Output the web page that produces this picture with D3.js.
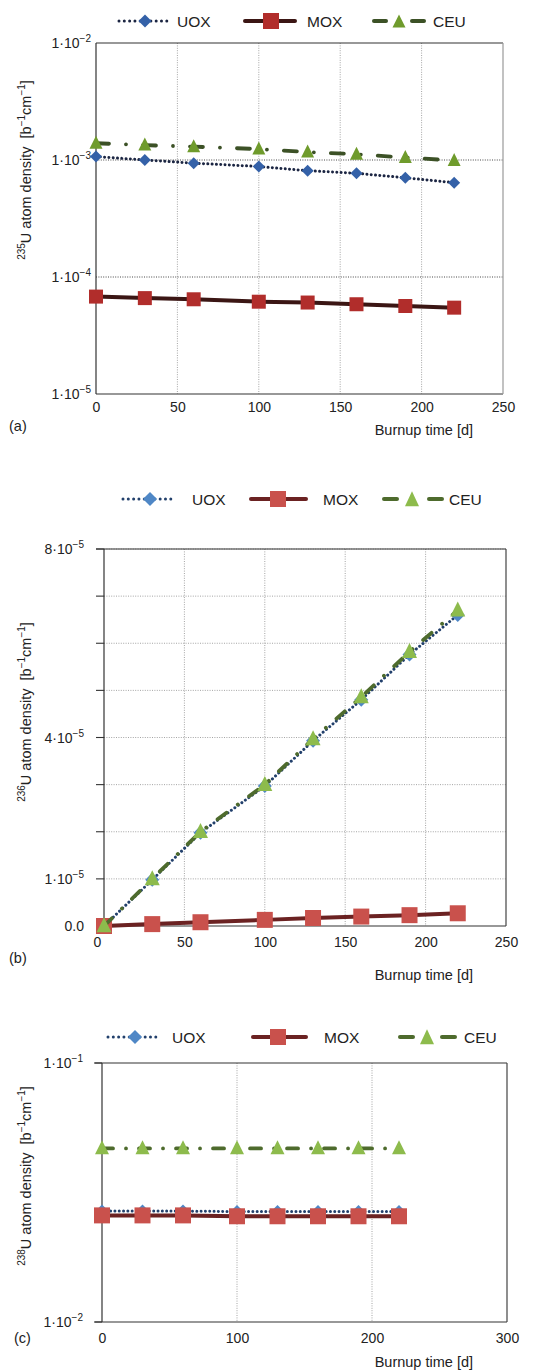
<!DOCTYPE html>
<html>
<head>
<meta charset="utf-8">
<script src="https://cdn.jsdelivr.net/npm/d3@7"></script>
<style>
  html, body { margin: 0; padding: 0; background: #fff; }
  svg { display: block; font-family: "Liberation Sans", Arial, sans-serif; }
</style>
</head>
<body>
<svg id="chart" width="553" height="1372"></svg>
<script>
// ---------------- DATA ----------------
const seriesNames = ["UOX", "MOX", "CEU"];
const burnupDays = [0, 30, 60, 100, 130, 160, 190, 220];

// (a) 235U atom density [b^-1 cm^-1]
const u235_UOX = [1.07e-3, 1.00e-3, 9.4e-4, 8.8e-4, 8.1e-4, 7.7e-4, 7.05e-4, 6.4e-4];
const u235_MOX = [6.8e-5, 6.6e-5, 6.45e-5, 6.15e-5, 6.05e-5, 5.85e-5, 5.65e-5, 5.47e-5];
const u235_CEU = [1.39e-3, 1.34e-3, 1.30e-3, 1.24e-3, 1.17e-3, 1.12e-3, 1.05e-3, 0.99e-3];

// (b) 236U atom density
const u236_UOX = [0, 0.98e-5, 1.98e-5, 2.97e-5, 3.93e-5, 4.80e-5, 5.76e-5, 6.60e-5];
const u236_MOX = [0, 0.04e-5, 0.08e-5, 0.13e-5, 0.17e-5, 0.20e-5, 0.23e-5, 0.27e-5];
const u236_CEU = [0, 1.00e-5, 2.00e-5, 3.00e-5, 3.97e-5, 4.86e-5, 5.82e-5, 6.70e-5];

// (c) 238U atom density
const u238_UOX = [0.0268, 0.0268, 0.0268, 0.0267, 0.0267, 0.0267, 0.0267, 0.0267];
const u238_MOX = [0.0258, 0.0258, 0.0258, 0.0256, 0.0256, 0.0256, 0.0256, 0.0256];
const u238_CEU = [0.0468, 0.0468, 0.0468, 0.0468, 0.0468, 0.0468, 0.0468, 0.0468];

// tick labels
const xTicksA = [0, 50, 100, 150, 200, 250];
const xTicksB = [0, 50, 100, 150, 200, 250];
const xTicksC = [0, 100, 200, 300];
const yTicksA = [{v: 1e-2, m: "1·10", e: "−2"}, {v: 1e-3, m: "1·10", e: "−3"}, {v: 1e-4, m: "1·10", e: "−4"}, {v: 1e-5, m: "1·10", e: "−5"}];
const yTicksB = [{v: 8e-5, m: "8·10", e: "−5"}, {v: 4e-5, m: "4·10", e: "−5"}, {v: 1e-5, m: "1·10", e: "−5"}, {v: 0, m: "0.0", e: ""}];
const yTicksC = [{v: 1e-1, m: "1·10", e: "−1"}, {v: 1e-2, m: "1·10", e: "−2"}];
const yGridB = [1e-5, 2e-5, 3e-5, 4e-5, 5e-5, 6e-5, 7e-5, 8e-5];

// ---------------- DRAWING ----------------
const svg = d3.select("#chart");

const diamondPath = r => `M0,${-r}L${r},0L0,${r}L${-r},0Z`;
const squarePath = s => `M${-s/2},${-s/2}h${s}v${s}h${-s}Z`;
const trianglePath = (w, h) => `M0,${-h*0.58}L${w/2},${h*0.42}L${-w/2},${h*0.42}Z`;

function panel(cfg) {
  const g = svg.append("g");
  const x = d3.scaleLinear().domain(cfg.xDomain).range([cfg.left, cfg.right]);
  const y = (cfg.log ? d3.scaleLog() : d3.scaleLinear()).domain(cfg.yDomain).range([cfg.bottom, cfg.top]);

  // vertical grid
  g.selectAll(".vg").data(cfg.xGrid).join("line")
    .attr("x1", d => x(d)).attr("x2", d => x(d))
    .attr("y1", cfg.top).attr("y2", cfg.bottom)
    .attr("stroke", "#9a9a9a").attr("stroke-width", 0.9).attr("stroke-dasharray", "1 1.4");
  // horizontal grid
  g.selectAll(".hg").data(cfg.yGrid).join("line")
    .attr("x1", cfg.left).attr("x2", cfg.right)
    .attr("y1", d => y(d)).attr("y2", d => y(d))
    .attr("stroke", cfg.hGridColor).attr("stroke-width", 0.9).attr("stroke-dasharray", "1 1.4");
  // left tick marks
  if (cfg.yTickMarks) {
    g.selectAll(".yt").data(cfg.yTickMarks).join("line")
      .attr("x1", cfg.left - 8).attr("x2", cfg.left)
      .attr("y1", d => y(d)).attr("y2", d => y(d))
      .attr("stroke", "#333").attr("stroke-width", 1.1);
  }
  // frame
  const ext = cfg.frameExt || 0;
  g.append("line").attr("x1", cfg.left - ext).attr("x2", cfg.right).attr("y1", cfg.top).attr("y2", cfg.top).attr("stroke", "#333").attr("stroke-width", 1.2);
  g.append("line").attr("x1", cfg.left - ext).attr("x2", cfg.right).attr("y1", cfg.bottom).attr("y2", cfg.bottom).attr("stroke", "#333").attr("stroke-width", 1.2);
  g.append("line").attr("x1", cfg.left).attr("x2", cfg.left).attr("y1", cfg.top).attr("y2", cfg.bottom).attr("stroke", "#333").attr("stroke-width", 1.2);
  g.append("line").attr("x1", cfg.right).attr("x2", cfg.right).attr("y1", cfg.top).attr("y2", cfg.bottom).attr("stroke", cfg.rightColor).attr("stroke-width", 1.2);

  // x axis labels via d3 axis
  const xa = g.append("g").attr("transform", `translate(0,${cfg.bottom})`)
    .call(d3.axisBottom(x).tickValues(cfg.xTicks).tickSize(0).tickPadding(cfg.xTickPad).tickFormat(d3.format("d")));
  xa.select(".domain").remove();
  xa.selectAll("text").attr("font-size", 14).attr("fill", "#222")
    .attr("font-family", "Liberation Sans, Arial, sans-serif")
    .attr("dx", d => (cfg.zeroShift && d === 0) ? cfg.zeroShift : 0);

  // y labels
  cfg.yTicks.forEach(t => {
    const tx = g.append("text").attr("x", cfg.yLabelX).attr("y", y(t.v) + 5)
      .attr("text-anchor", "end").attr("font-size", 14).attr("fill", "#222");
    tx.append("tspan").text(t.m);
    if (t.e) tx.append("tspan").attr("dy", -6).attr("font-size", 10).text(t.e);
  });

  // y title (rotated)
  const yt = g.append("text")
    .attr("transform", `translate(${cfg.yTitleX},${cfg.yTitleY}) rotate(-90)`)
    .attr("text-anchor", "middle").attr("font-size", 14.5).attr("fill", "#222");
  yt.append("tspan").attr("font-size", 10).attr("dy", -6).text(cfg.isotope);
  yt.append("tspan").attr("dy", 6).text("U atom density\u00a0\u00a0[b");
  yt.append("tspan").attr("font-size", 10).attr("dy", -6).text("−1");
  yt.append("tspan").attr("dy", 6).text("cm");
  yt.append("tspan").attr("font-size", 10).attr("dy", -6).text("−1");
  yt.append("tspan").attr("dy", 6).text("]");

  // panel letter & x title
  g.append("text").attr("x", cfg.letterX).attr("y", cfg.letterY).attr("font-size", 14.5).attr("fill", "#222").text(cfg.letter);
  g.append("text").attr("x", 473).attr("y", cfg.xTitleY).attr("text-anchor", "end").attr("font-size", 14.5).attr("fill", "#222").text("Burnup time [d]");

  const c = cfg.colors;
  const line = d3.line().x(d => x(d[0])).y(d => y(d[1]));
  const series = [
    {name: "UOX", vals: cfg.data[0]},
    {name: "MOX", vals: cfg.data[1]},
    {name: "CEU", vals: cfg.data[2]}
  ];
  const styles = {
    UOX: {stroke: c.uoxLine, width: 3, dash: "0.01 4.3", cap: "round", marker: diamondPath(cfg.dR), fill: c.uox},
    MOX: {stroke: c.moxLine, width: 4, dash: null, cap: "butt", marker: squarePath(cfg.sq), fill: c.mox},
    CEU: {stroke: c.ceuLine, width: 3.8, dash: cfg.ceuDash, cap: "round", marker: trianglePath(cfg.triW, cfg.triH), fill: c.ceu}
  };
  series.forEach(s => {
    const st = styles[s.name];
    const pts = burnupDays.map((d, i) => [d, s.vals[i]]);
    g.append("path").attr("d", line(pts)).attr("fill", "none")
      .attr("stroke", st.stroke).attr("stroke-width", st.width)
      .attr("stroke-dasharray", st.dash).attr("stroke-linecap", st.cap);
    g.selectAll(".m" + s.name).data(pts).join("path")
      .attr("d", st.marker).attr("transform", d => `translate(${x(d[0])},${y(d[1])})`)
      .attr("fill", st.fill);
  });

  // legend
  const L = cfg.legend;
  seriesNames.forEach((name, i) => {
    const st = styles[name];
    const it = L.items[i];
    const mc = it.mx;
    if (name === "UOX") {
      g.append("line").attr("x1", it.x1).attr("x2", it.x2).attr("y1", L.y).attr("y2", L.y)
        .attr("stroke", st.stroke).attr("stroke-width", 3).attr("stroke-dasharray", "0.01 5.3").attr("stroke-linecap", "round");
      g.append("path").attr("d", diamondPath(L.dR)).attr("transform", `translate(${mc},${L.y})`).attr("fill", st.fill);
    } else if (name === "MOX") {
      g.append("line").attr("x1", it.x1).attr("x2", it.x2).attr("y1", L.y).attr("y2", L.y)
        .attr("stroke", st.stroke).attr("stroke-width", 4).attr("stroke-linecap", "round");
      g.append("path").attr("d", squarePath(L.sq)).attr("transform", `translate(${mc},${L.y})`).attr("fill", st.fill);
    } else {
      [[it.x1, it.x1 + L.dashLen], [it.x2 - L.dashLen, it.x2]].forEach(seg => {
        g.append("line").attr("x1", seg[0]).attr("x2", seg[1]).attr("y1", L.y).attr("y2", L.y)
          .attr("stroke", st.stroke).attr("stroke-width", 4).attr("stroke-linecap", "round");
      });
      g.append("path").attr("d", trianglePath(L.triW, L.triH)).attr("transform", `translate(${mc},${L.y + 1})`).attr("fill", st.fill);
    }
    g.append("text").attr("x", it.tx).attr("y", L.y + 5.5).attr("font-size", 15.5).attr("fill", "#222").text(name);
  });
}

const colorsA = {uox: "#3461a8", uoxLine: "#1b2542", mox: "#b12d2b", moxLine: "#3b1614", ceu: "#6f9b2c", ceuLine: "#3c5126"};
const colorsBC = {uox: "#4f87c6", uoxLine: "#22406c", mox: "#c9514c", moxLine: "#6b2222", ceu: "#8dbb4c", ceuLine: "#4e6b2d"};

panel({
  left: 96, right: 503, top: 43, bottom: 394,
  xDomain: [0, 250], yDomain: [1e-5, 1e-2], log: true,
  xGrid: [50, 100, 150, 200], yGrid: [1e-3, 1e-4], hGridColor: "#333",
  rightColor: "#999", frameExt: 0,
  xTicks: xTicksA, xTickPad: 8, yTicks: yTicksA, yLabelX: 91,
  isotope: "235", yTitleX: 31, yTitleY: 170,
  letter: "(a)", letterX: 9, letterY: 431, xTitleY: 435,
  data: [u235_UOX, u235_MOX, u235_CEU], colors: colorsA,
  dR: 6, sq: 14, triW: 13, triH: 13, ceuDash: "13 17 0.01 17",
  legend: {y: 21, dR: 6.5, sq: 16, triW: 13, triH: 13, dashLen: 12,
    items: [{x1: 119, x2: 168, mx: 145, tx: 177}, {x1: 245, x2: 295, mx: 271, tx: 307}, {x1: 374, x2: 424, mx: 399, tx: 433}]}
});

panel({
  left: 104, right: 506, top: 549, bottom: 926,
  xDomain: [0, 250], yDomain: [0, 8e-5], log: false,
  xGrid: [50, 100, 150, 200], yGrid: yGridB, hGridColor: "#9a9a9a",
  yTickMarks: yGridB, rightColor: "#444", frameExt: 8,
  xTicks: xTicksB, xTickPad: 11, yTicks: yTicksB, yLabelX: 84, zeroShift: -7,
  isotope: "236", yTitleX: 31, yTitleY: 712,
  letter: "(b)", letterX: 9, letterY: 963, xTitleY: 980,
  data: [u236_UOX, u236_MOX, u236_CEU], colors: colorsBC,
  dR: 7, sq: 16, triW: 15, triH: 15, ceuDash: "11 14 0.01 14",
  legend: {y: 499, dR: 7, sq: 16, triW: 14, triH: 15, dashLen: 13,
    items: [{x1: 123, x2: 173, mx: 150, tx: 192}, {x1: 251, x2: 306, mx: 278, tx: 323}, {x1: 384, x2: 442, mx: 412, tx: 449}]}
});

panel({
  left: 102, right: 507, top: 1063, bottom: 1322,
  xDomain: [0, 300], yDomain: [1e-2, 1e-1], log: true,
  xGrid: [100, 200], yGrid: [], hGridColor: "#333",
  yTickMarks: [1e-1, 1e-2], rightColor: "#444", frameExt: 7,
  xTicks: xTicksC, xTickPad: 11, yTicks: yTicksC, yLabelX: 83,
  isotope: "238", yTitleX: 31, yTitleY: 1176,
  letter: "(c)", letterX: 14, letterY: 1343, xTitleY: 1367,
  data: [u238_UOX, u238_MOX, u238_CEU], colors: colorsBC,
  dR: 6.5, sq: 16, triW: 14, triH: 14, ceuDash: "11 13 0.01 13",
  legend: {y: 1037, dR: 7, sq: 16, triW: 14, triH: 15, dashLen: 13,
    items: [{x1: 108, x2: 158, mx: 135, tx: 172}, {x1: 253, x2: 306, mx: 278, tx: 324}, {x1: 400, x2: 455, mx: 427, tx: 464}]}
});
</script>
</body>
</html>
